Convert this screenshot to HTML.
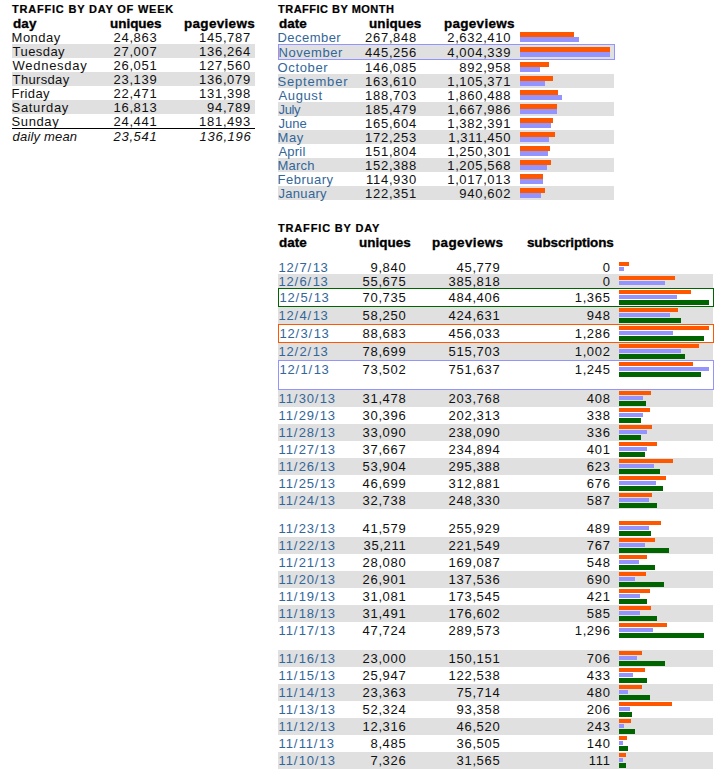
<!DOCTYPE html><html><head><meta charset="utf-8"><style>
html,body{margin:0;padding:0;background:#fff;width:725px;height:776px;overflow:hidden}
body{position:relative;font-family:"Liberation Sans",sans-serif;color:#111}
.t{position:absolute;white-space:nowrap}
.r{position:absolute}
</style></head><body>
<div class="r" style="left:12px;top:44px;width:243px;height:14px;background:#e0e0e0"></div>
<div class="r" style="left:12px;top:72px;width:243px;height:14px;background:#e0e0e0"></div>
<div class="r" style="left:12px;top:100px;width:243px;height:14px;background:#e0e0e0"></div>
<div class="r" style="left:12px;top:128px;width:243px;height:1px;background:#000"></div>
<div class="r" style="left:278px;top:74px;width:336px;height:14px;background:#e0e0e0"></div>
<div class="r" style="left:278px;top:102px;width:336px;height:14px;background:#e0e0e0"></div>
<div class="r" style="left:278px;top:130px;width:336px;height:14px;background:#e0e0e0"></div>
<div class="r" style="left:278px;top:158px;width:336px;height:14px;background:#e0e0e0"></div>
<div class="r" style="left:278px;top:186px;width:336px;height:14px;background:#e0e0e0"></div>
<div class="r" style="left:278px;top:274px;width:435px;height:14px;background:#e0e0e0"></div>
<div class="r" style="left:278px;top:307px;width:435px;height:17px;background:#e0e0e0"></div>
<div class="r" style="left:278px;top:343px;width:435px;height:17px;background:#e0e0e0"></div>
<div class="r" style="left:278px;top:390px;width:435px;height:17px;background:#e0e0e0"></div>
<div class="r" style="left:278px;top:424px;width:435px;height:17px;background:#e0e0e0"></div>
<div class="r" style="left:278px;top:458px;width:435px;height:17px;background:#e0e0e0"></div>
<div class="r" style="left:278px;top:492px;width:435px;height:17px;background:#e0e0e0"></div>
<div class="r" style="left:278px;top:537px;width:435px;height:17px;background:#e0e0e0"></div>
<div class="r" style="left:278px;top:571px;width:435px;height:17px;background:#e0e0e0"></div>
<div class="r" style="left:278px;top:605px;width:435px;height:17px;background:#e0e0e0"></div>
<div class="r" style="left:278px;top:650px;width:435px;height:17px;background:#e0e0e0"></div>
<div class="r" style="left:278px;top:684px;width:435px;height:17px;background:#e0e0e0"></div>
<div class="r" style="left:278px;top:718px;width:435px;height:17px;background:#e0e0e0"></div>
<div class="r" style="left:278px;top:752px;width:435px;height:17px;background:#e0e0e0"></div>
<div class="r" style="left:278px;top:44px;width:335px;height:14px;border:1px solid #9494ff;background:#e0e0e0"></div>
<div class="r" style="left:278px;top:288px;width:434px;height:17px;border:1px solid #006400;background:#fff"></div>
<div class="r" style="left:278px;top:324px;width:434px;height:17px;border:1px solid #ff5700;background:#fff"></div>
<div class="r" style="left:278px;top:360px;width:434px;height:28px;border:1px solid #9494ff;background:#fff"></div>
<div class="r" style="left:520px;top:32px;width:54.00px;height:5px;background:#ff5700"></div>
<div class="r" style="left:520px;top:37px;width:59.00px;height:5px;background:#9494ff"></div>
<div class="r" style="left:520px;top:47px;width:90.00px;height:5px;background:#ff5700"></div>
<div class="r" style="left:520px;top:52px;width:90.00px;height:5px;background:#9494ff"></div>
<div class="r" style="left:520px;top:62px;width:29.00px;height:5px;background:#ff5700"></div>
<div class="r" style="left:520px;top:67px;width:20.00px;height:5px;background:#9494ff"></div>
<div class="r" style="left:520px;top:76px;width:33.00px;height:5px;background:#ff5700"></div>
<div class="r" style="left:520px;top:81px;width:25.00px;height:5px;background:#9494ff"></div>
<div class="r" style="left:520px;top:90px;width:38.00px;height:5px;background:#ff5700"></div>
<div class="r" style="left:520px;top:95px;width:42.00px;height:5px;background:#9494ff"></div>
<div class="r" style="left:520px;top:104px;width:37.00px;height:5px;background:#ff5700"></div>
<div class="r" style="left:520px;top:109px;width:37.00px;height:5px;background:#9494ff"></div>
<div class="r" style="left:520px;top:118px;width:33.00px;height:5px;background:#ff5700"></div>
<div class="r" style="left:520px;top:123px;width:31.00px;height:5px;background:#9494ff"></div>
<div class="r" style="left:520px;top:132px;width:35.00px;height:5px;background:#ff5700"></div>
<div class="r" style="left:520px;top:137px;width:29.00px;height:5px;background:#9494ff"></div>
<div class="r" style="left:520px;top:146px;width:30.00px;height:5px;background:#ff5700"></div>
<div class="r" style="left:520px;top:151px;width:28.00px;height:5px;background:#9494ff"></div>
<div class="r" style="left:520px;top:160px;width:31.00px;height:5px;background:#ff5700"></div>
<div class="r" style="left:520px;top:165px;width:27.00px;height:5px;background:#9494ff"></div>
<div class="r" style="left:520px;top:174px;width:23.00px;height:5px;background:#ff5700"></div>
<div class="r" style="left:520px;top:179px;width:23.00px;height:5px;background:#9494ff"></div>
<div class="r" style="left:520px;top:188px;width:25.00px;height:5px;background:#ff5700"></div>
<div class="r" style="left:520px;top:193px;width:21.00px;height:5px;background:#9494ff"></div>
<div class="r" style="left:619px;top:262px;width:10.00px;height:4px;background:#ff5700"></div>
<div class="r" style="left:619px;top:267px;width:5.00px;height:4px;background:#9494ff"></div>
<div class="r" style="left:619px;top:276px;width:56.00px;height:4px;background:#ff5700"></div>
<div class="r" style="left:619px;top:281px;width:46.00px;height:4px;background:#9494ff"></div>
<div class="r" style="left:619px;top:290px;width:72.00px;height:4px;background:#ff5700"></div>
<div class="r" style="left:619px;top:295px;width:58.00px;height:4px;background:#9494ff"></div>
<div class="r" style="left:619px;top:300px;width:90.00px;height:5px;background:#006400"></div>
<div class="r" style="left:619px;top:308px;width:59.00px;height:4px;background:#ff5700"></div>
<div class="r" style="left:619px;top:313px;width:51.00px;height:4px;background:#9494ff"></div>
<div class="r" style="left:619px;top:318px;width:62.00px;height:5px;background:#006400"></div>
<div class="r" style="left:619px;top:326px;width:90.00px;height:4px;background:#ff5700"></div>
<div class="r" style="left:619px;top:331px;width:54.00px;height:4px;background:#9494ff"></div>
<div class="r" style="left:619px;top:336px;width:85.00px;height:5px;background:#006400"></div>
<div class="r" style="left:619px;top:344px;width:80.00px;height:4px;background:#ff5700"></div>
<div class="r" style="left:619px;top:349px;width:62.00px;height:4px;background:#9494ff"></div>
<div class="r" style="left:619px;top:354px;width:66.00px;height:5px;background:#006400"></div>
<div class="r" style="left:619px;top:362px;width:74.00px;height:4px;background:#ff5700"></div>
<div class="r" style="left:619px;top:367px;width:90.00px;height:4px;background:#9494ff"></div>
<div class="r" style="left:619px;top:372px;width:82.00px;height:5px;background:#006400"></div>
<div class="r" style="left:619px;top:391px;width:32.00px;height:4px;background:#ff5700"></div>
<div class="r" style="left:619px;top:396px;width:24.00px;height:4px;background:#9494ff"></div>
<div class="r" style="left:619px;top:401px;width:27.00px;height:5px;background:#006400"></div>
<div class="r" style="left:619px;top:408px;width:31.00px;height:4px;background:#ff5700"></div>
<div class="r" style="left:619px;top:413px;width:24.00px;height:4px;background:#9494ff"></div>
<div class="r" style="left:619px;top:418px;width:22.00px;height:5px;background:#006400"></div>
<div class="r" style="left:619px;top:425px;width:33.00px;height:4px;background:#ff5700"></div>
<div class="r" style="left:619px;top:430px;width:28.00px;height:4px;background:#9494ff"></div>
<div class="r" style="left:619px;top:435px;width:22.00px;height:5px;background:#006400"></div>
<div class="r" style="left:619px;top:442px;width:38.00px;height:4px;background:#ff5700"></div>
<div class="r" style="left:619px;top:447px;width:28.00px;height:4px;background:#9494ff"></div>
<div class="r" style="left:619px;top:452px;width:26.00px;height:5px;background:#006400"></div>
<div class="r" style="left:619px;top:459px;width:54.00px;height:4px;background:#ff5700"></div>
<div class="r" style="left:619px;top:464px;width:35.00px;height:4px;background:#9494ff"></div>
<div class="r" style="left:619px;top:469px;width:41.00px;height:5px;background:#006400"></div>
<div class="r" style="left:619px;top:476px;width:47.00px;height:4px;background:#ff5700"></div>
<div class="r" style="left:619px;top:481px;width:37.00px;height:4px;background:#9494ff"></div>
<div class="r" style="left:619px;top:486px;width:44.00px;height:5px;background:#006400"></div>
<div class="r" style="left:619px;top:493px;width:33.00px;height:4px;background:#ff5700"></div>
<div class="r" style="left:619px;top:498px;width:30.00px;height:4px;background:#9494ff"></div>
<div class="r" style="left:619px;top:503px;width:38.00px;height:5px;background:#006400"></div>
<div class="r" style="left:619px;top:521px;width:42.00px;height:4px;background:#ff5700"></div>
<div class="r" style="left:619px;top:526px;width:30.00px;height:4px;background:#9494ff"></div>
<div class="r" style="left:619px;top:531px;width:32.00px;height:5px;background:#006400"></div>
<div class="r" style="left:619px;top:538px;width:36.00px;height:4px;background:#ff5700"></div>
<div class="r" style="left:619px;top:543px;width:26.00px;height:4px;background:#9494ff"></div>
<div class="r" style="left:619px;top:548px;width:50.00px;height:5px;background:#006400"></div>
<div class="r" style="left:619px;top:555px;width:28.00px;height:4px;background:#ff5700"></div>
<div class="r" style="left:619px;top:560px;width:20.00px;height:4px;background:#9494ff"></div>
<div class="r" style="left:619px;top:565px;width:36.00px;height:5px;background:#006400"></div>
<div class="r" style="left:619px;top:572px;width:27.00px;height:4px;background:#ff5700"></div>
<div class="r" style="left:619px;top:577px;width:16.00px;height:4px;background:#9494ff"></div>
<div class="r" style="left:619px;top:582px;width:45.00px;height:5px;background:#006400"></div>
<div class="r" style="left:619px;top:589px;width:31.00px;height:4px;background:#ff5700"></div>
<div class="r" style="left:619px;top:594px;width:21.00px;height:4px;background:#9494ff"></div>
<div class="r" style="left:619px;top:599px;width:28.00px;height:5px;background:#006400"></div>
<div class="r" style="left:619px;top:606px;width:32.00px;height:4px;background:#ff5700"></div>
<div class="r" style="left:619px;top:611px;width:21.00px;height:4px;background:#9494ff"></div>
<div class="r" style="left:619px;top:616px;width:38.00px;height:5px;background:#006400"></div>
<div class="r" style="left:619px;top:623px;width:48.00px;height:4px;background:#ff5700"></div>
<div class="r" style="left:619px;top:628px;width:34.00px;height:4px;background:#9494ff"></div>
<div class="r" style="left:619px;top:633px;width:85.00px;height:5px;background:#006400"></div>
<div class="r" style="left:619px;top:651px;width:23.00px;height:4px;background:#ff5700"></div>
<div class="r" style="left:619px;top:656px;width:18.00px;height:4px;background:#9494ff"></div>
<div class="r" style="left:619px;top:661px;width:46.00px;height:5px;background:#006400"></div>
<div class="r" style="left:619px;top:668px;width:26.00px;height:4px;background:#ff5700"></div>
<div class="r" style="left:619px;top:673px;width:14.00px;height:4px;background:#9494ff"></div>
<div class="r" style="left:619px;top:678px;width:28.00px;height:5px;background:#006400"></div>
<div class="r" style="left:619px;top:685px;width:23.00px;height:4px;background:#ff5700"></div>
<div class="r" style="left:619px;top:690px;width:9.00px;height:4px;background:#9494ff"></div>
<div class="r" style="left:619px;top:695px;width:31.00px;height:5px;background:#006400"></div>
<div class="r" style="left:619px;top:702px;width:53.00px;height:4px;background:#ff5700"></div>
<div class="r" style="left:619px;top:707px;width:11.00px;height:4px;background:#9494ff"></div>
<div class="r" style="left:619px;top:712px;width:13.00px;height:5px;background:#006400"></div>
<div class="r" style="left:619px;top:719px;width:12.00px;height:4px;background:#ff5700"></div>
<div class="r" style="left:619px;top:724px;width:5.00px;height:4px;background:#9494ff"></div>
<div class="r" style="left:619px;top:729px;width:16.00px;height:5px;background:#006400"></div>
<div class="r" style="left:619px;top:736px;width:8.00px;height:4px;background:#ff5700"></div>
<div class="r" style="left:619px;top:741px;width:4.00px;height:4px;background:#9494ff"></div>
<div class="r" style="left:619px;top:746px;width:9.00px;height:5px;background:#006400"></div>
<div class="r" style="left:619px;top:753px;width:7.00px;height:4px;background:#ff5700"></div>
<div class="r" style="left:619px;top:758px;width:4.00px;height:4px;background:#9494ff"></div>
<div class="r" style="left:619px;top:763px;width:7.00px;height:5px;background:#006400"></div>
<div class="t" style="left:12.10px;top:4px;font-size:10px;line-height:11px;letter-spacing:0.719px;font-weight:bold;color:#000;transform:scale(1.1,1.0);transform-origin:0 9px;-webkit-text-stroke:0.2px #000">TRAFFIC BY DAY OF WEEK</div>
<div class="t" style="left:12.70px;top:17px;font-size:12px;line-height:14px;letter-spacing:0.089px;font-weight:bold;color:#000;transform:scale(1.12,1.0);transform-origin:0 11px;-webkit-text-stroke:0.3px #000">day</div>
<div class="t" style="left:109.50px;top:17px;font-size:12px;line-height:14px;letter-spacing:0.0px;font-weight:bold;color:#000;transform:scale(1.12,1.0);transform-origin:0 11px;-webkit-text-stroke:0.3px #000">uniques</div>
<div class="t" style="left:183.70px;top:17px;font-size:12px;line-height:14px;letter-spacing:0.301px;font-weight:bold;color:#000;transform:scale(1.12,1.0);transform-origin:0 11px;-webkit-text-stroke:0.3px #000">pageviews</div>
<div class="t" style="left:11.60px;top:30px;font-size:13px;line-height:15px;letter-spacing:0.48px">Monday</div>
<div class="t" style="left:113.40px;top:30px;font-size:13px;line-height:15px;letter-spacing:0.77px">24<span style="letter-spacing:0.39px">,</span>863</div>
<div class="t" style="left:199.00px;top:30px;font-size:13px;line-height:15px;letter-spacing:0.77px">145<span style="letter-spacing:0.39px">,</span>787</div>
<div class="t" style="left:12.60px;top:44px;font-size:13px;line-height:15px;letter-spacing:0.433px">Tuesday</div>
<div class="t" style="left:113.40px;top:44px;font-size:13px;line-height:15px;letter-spacing:0.77px">27<span style="letter-spacing:0.39px">,</span>007</div>
<div class="t" style="left:199.00px;top:44px;font-size:13px;line-height:15px;letter-spacing:0.77px">136<span style="letter-spacing:0.39px">,</span>264</div>
<div class="t" style="left:12.60px;top:58px;font-size:13px;line-height:15px;letter-spacing:0.713px">Wednesday</div>
<div class="t" style="left:113.40px;top:58px;font-size:13px;line-height:15px;letter-spacing:0.77px">26<span style="letter-spacing:0.39px">,</span>051</div>
<div class="t" style="left:199.00px;top:58px;font-size:13px;line-height:15px;letter-spacing:0.77px">127<span style="letter-spacing:0.39px">,</span>560</div>
<div class="t" style="left:12.60px;top:72px;font-size:13px;line-height:15px;letter-spacing:0.343px">Thursday</div>
<div class="t" style="left:113.40px;top:72px;font-size:13px;line-height:15px;letter-spacing:0.77px">23<span style="letter-spacing:0.39px">,</span>139</div>
<div class="t" style="left:199.00px;top:72px;font-size:13px;line-height:15px;letter-spacing:0.77px">136<span style="letter-spacing:0.39px">,</span>079</div>
<div class="t" style="left:11.60px;top:86px;font-size:13px;line-height:15px;letter-spacing:0.36px">Friday</div>
<div class="t" style="left:113.40px;top:86px;font-size:13px;line-height:15px;letter-spacing:0.77px">22<span style="letter-spacing:0.39px">,</span>471</div>
<div class="t" style="left:199.00px;top:86px;font-size:13px;line-height:15px;letter-spacing:0.77px">131<span style="letter-spacing:0.39px">,</span>398</div>
<div class="t" style="left:11.60px;top:100px;font-size:13px;line-height:15px;letter-spacing:0.671px">Saturday</div>
<div class="t" style="left:113.40px;top:100px;font-size:13px;line-height:15px;letter-spacing:0.77px">16<span style="letter-spacing:0.39px">,</span>813</div>
<div class="t" style="left:207.00px;top:100px;font-size:13px;line-height:15px;letter-spacing:0.77px">94<span style="letter-spacing:0.39px">,</span>789</div>
<div class="t" style="left:11.60px;top:114px;font-size:13px;line-height:15px;letter-spacing:0.6px">Sunday</div>
<div class="t" style="left:113.40px;top:114px;font-size:13px;line-height:15px;letter-spacing:0.77px">24<span style="letter-spacing:0.39px">,</span>441</div>
<div class="t" style="left:199.00px;top:114px;font-size:13px;line-height:15px;letter-spacing:0.77px">181<span style="letter-spacing:0.39px">,</span>493</div>
<div class="t" style="left:12.60px;top:129px;font-size:13px;line-height:15px;letter-spacing:0.178px;font-style:italic">daily mean</div>
<div class="t" style="left:113.50px;top:129px;font-size:13px;line-height:15px;letter-spacing:0.77px;font-style:italic">23<span style="letter-spacing:0.39px">,</span>541</div>
<div class="t" style="left:199.60px;top:129px;font-size:13px;line-height:15px;letter-spacing:0.77px;font-style:italic">136<span style="letter-spacing:0.39px">,</span>196</div>
<div class="t" style="left:278.10px;top:4px;font-size:10px;line-height:11px;letter-spacing:0.448px;font-weight:bold;color:#000;transform:scale(1.1,1.0);transform-origin:0 9px;-webkit-text-stroke:0.2px #000">TRAFFIC BY MONTH</div>
<div class="t" style="left:278.70px;top:17px;font-size:12px;line-height:14px;letter-spacing:0.03px;font-weight:bold;color:#000;transform:scale(1.12,1.0);transform-origin:0 11px;-webkit-text-stroke:0.3px #000">date</div>
<div class="t" style="left:369.10px;top:17px;font-size:12px;line-height:14px;letter-spacing:0.104px;font-weight:bold;color:#000;transform:scale(1.12,1.0);transform-origin:0 11px;-webkit-text-stroke:0.3px #000">uniques</div>
<div class="t" style="left:444.00px;top:17px;font-size:12px;line-height:14px;letter-spacing:0.279px;font-weight:bold;color:#000;transform:scale(1.12,1.0);transform-origin:0 11px;-webkit-text-stroke:0.3px #000">pageviews</div>
<div class="t" style="left:277.50px;top:30px;font-size:13px;line-height:15px;letter-spacing:0.457px;color:#336699">December</div>
<div class="t" style="left:365.00px;top:30px;font-size:13px;line-height:15px;letter-spacing:0.77px">267<span style="letter-spacing:0.39px">,</span>848</div>
<div class="t" style="left:447.20px;top:30px;font-size:13px;line-height:15px;letter-spacing:0.77px">2<span style="letter-spacing:0.39px">,</span>632<span style="letter-spacing:0.39px">,</span>410</div>
<div class="t" style="left:278.50px;top:45px;font-size:13px;line-height:15px;letter-spacing:0.557px;color:#336699">November</div>
<div class="t" style="left:365.00px;top:45px;font-size:13px;line-height:15px;letter-spacing:0.77px">445<span style="letter-spacing:0.39px">,</span>256</div>
<div class="t" style="left:447.20px;top:45px;font-size:13px;line-height:15px;letter-spacing:0.77px">4<span style="letter-spacing:0.39px">,</span>004<span style="letter-spacing:0.39px">,</span>339</div>
<div class="t" style="left:277.50px;top:60px;font-size:13px;line-height:15px;letter-spacing:0.65px;color:#336699">October</div>
<div class="t" style="left:365.00px;top:60px;font-size:13px;line-height:15px;letter-spacing:0.77px">146<span style="letter-spacing:0.39px">,</span>085</div>
<div class="t" style="left:459.20px;top:60px;font-size:13px;line-height:15px;letter-spacing:0.77px">892<span style="letter-spacing:0.39px">,</span>958</div>
<div class="t" style="left:277.50px;top:74px;font-size:13px;line-height:15px;letter-spacing:0.8px;color:#336699">September</div>
<div class="t" style="left:365.00px;top:74px;font-size:13px;line-height:15px;letter-spacing:0.77px">163<span style="letter-spacing:0.39px">,</span>610</div>
<div class="t" style="left:447.20px;top:74px;font-size:13px;line-height:15px;letter-spacing:0.77px">1<span style="letter-spacing:0.39px">,</span>105<span style="letter-spacing:0.39px">,</span>371</div>
<div class="t" style="left:278.50px;top:88px;font-size:13px;line-height:15px;letter-spacing:0.62px;color:#336699">August</div>
<div class="t" style="left:365.00px;top:88px;font-size:13px;line-height:15px;letter-spacing:0.77px">188<span style="letter-spacing:0.39px">,</span>703</div>
<div class="t" style="left:447.20px;top:88px;font-size:13px;line-height:15px;letter-spacing:0.77px">1<span style="letter-spacing:0.39px">,</span>860<span style="letter-spacing:0.39px">,</span>488</div>
<div class="t" style="left:278.50px;top:102px;font-size:13px;line-height:15px;letter-spacing:-0.333px;color:#336699">July</div>
<div class="t" style="left:365.00px;top:102px;font-size:13px;line-height:15px;letter-spacing:0.77px">185<span style="letter-spacing:0.39px">,</span>479</div>
<div class="t" style="left:447.20px;top:102px;font-size:13px;line-height:15px;letter-spacing:0.77px">1<span style="letter-spacing:0.39px">,</span>667<span style="letter-spacing:0.39px">,</span>986</div>
<div class="t" style="left:278.50px;top:116px;font-size:13px;line-height:15px;letter-spacing:0.0px;color:#336699">June</div>
<div class="t" style="left:365.00px;top:116px;font-size:13px;line-height:15px;letter-spacing:0.77px">165<span style="letter-spacing:0.39px">,</span>604</div>
<div class="t" style="left:447.20px;top:116px;font-size:13px;line-height:15px;letter-spacing:0.77px">1<span style="letter-spacing:0.39px">,</span>382<span style="letter-spacing:0.39px">,</span>391</div>
<div class="t" style="left:277.50px;top:130px;font-size:13px;line-height:15px;letter-spacing:0.6px;color:#336699">May</div>
<div class="t" style="left:365.00px;top:130px;font-size:13px;line-height:15px;letter-spacing:0.77px">172<span style="letter-spacing:0.39px">,</span>253</div>
<div class="t" style="left:448.20px;top:130px;font-size:13px;line-height:15px;letter-spacing:0.77px">1<span style="letter-spacing:0.39px">,</span>311<span style="letter-spacing:0.39px">,</span>450</div>
<div class="t" style="left:278.50px;top:144px;font-size:13px;line-height:15px;letter-spacing:0.2px;color:#336699">April</div>
<div class="t" style="left:365.00px;top:144px;font-size:13px;line-height:15px;letter-spacing:0.77px">151<span style="letter-spacing:0.39px">,</span>804</div>
<div class="t" style="left:447.20px;top:144px;font-size:13px;line-height:15px;letter-spacing:0.77px">1<span style="letter-spacing:0.39px">,</span>250<span style="letter-spacing:0.39px">,</span>301</div>
<div class="t" style="left:277.50px;top:158px;font-size:13px;line-height:15px;letter-spacing:0.225px;color:#336699">March</div>
<div class="t" style="left:365.00px;top:158px;font-size:13px;line-height:15px;letter-spacing:0.77px">152<span style="letter-spacing:0.39px">,</span>388</div>
<div class="t" style="left:447.20px;top:158px;font-size:13px;line-height:15px;letter-spacing:0.77px">1<span style="letter-spacing:0.39px">,</span>205<span style="letter-spacing:0.39px">,</span>568</div>
<div class="t" style="left:277.50px;top:172px;font-size:13px;line-height:15px;letter-spacing:0.5px;color:#336699">February</div>
<div class="t" style="left:366.00px;top:172px;font-size:13px;line-height:15px;letter-spacing:0.77px">114<span style="letter-spacing:0.39px">,</span>930</div>
<div class="t" style="left:447.20px;top:172px;font-size:13px;line-height:15px;letter-spacing:0.77px">1<span style="letter-spacing:0.39px">,</span>017<span style="letter-spacing:0.39px">,</span>013</div>
<div class="t" style="left:278.50px;top:186px;font-size:13px;line-height:15px;letter-spacing:0.3px;color:#336699">January</div>
<div class="t" style="left:365.00px;top:186px;font-size:13px;line-height:15px;letter-spacing:0.77px">122<span style="letter-spacing:0.39px">,</span>351</div>
<div class="t" style="left:459.20px;top:186px;font-size:13px;line-height:15px;letter-spacing:0.77px">940<span style="letter-spacing:0.39px">,</span>602</div>
<div class="t" style="left:278.10px;top:223px;font-size:10px;line-height:11px;letter-spacing:0.762px;font-weight:bold;color:#000;transform:scale(1.1,1.0);transform-origin:0 9px;-webkit-text-stroke:0.2px #000">TRAFFIC BY DAY</div>
<div class="t" style="left:278.70px;top:236px;font-size:12px;line-height:14px;letter-spacing:0.03px;font-weight:bold;color:#000;transform:scale(1.12,1.0);transform-origin:0 11px;-webkit-text-stroke:0.3px #000">date</div>
<div class="t" style="left:358.70px;top:236px;font-size:12px;line-height:14px;letter-spacing:0.045px;font-weight:bold;color:#000;transform:scale(1.12,1.0);transform-origin:0 11px;-webkit-text-stroke:0.3px #000">uniques</div>
<div class="t" style="left:432.30px;top:236px;font-size:12px;line-height:14px;letter-spacing:0.346px;font-weight:bold;color:#000;transform:scale(1.12,1.0);transform-origin:0 11px;-webkit-text-stroke:0.3px #000">pageviews</div>
<div class="t" style="left:527.20px;top:236px;font-size:12px;line-height:14px;letter-spacing:-0.104px;font-weight:bold;color:#000;transform:scale(1.12,1.0);transform-origin:0 11px;-webkit-text-stroke:0.3px #000">subscriptions</div>
<div class="t" style="left:278.60px;top:260px;font-size:13px;line-height:15px;letter-spacing:0.77px;color:#336699">12<span style="letter-spacing:1.39px">/</span>7<span style="letter-spacing:1.39px">/</span>13</div>
<div class="t" style="left:370.50px;top:260px;font-size:13px;line-height:15px;letter-spacing:0.77px">9<span style="letter-spacing:0.39px">,</span>840</div>
<div class="t" style="left:456.50px;top:260px;font-size:13px;line-height:15px;letter-spacing:0.77px">45<span style="letter-spacing:0.39px">,</span>779</div>
<div class="t" style="left:602.70px;top:260px;font-size:13px;line-height:15px;letter-spacing:0.77px">0</div>
<div class="t" style="left:278.60px;top:274px;font-size:13px;line-height:15px;letter-spacing:0.77px;color:#336699">12<span style="letter-spacing:1.39px">/</span>6<span style="letter-spacing:1.39px">/</span>13</div>
<div class="t" style="left:362.50px;top:274px;font-size:13px;line-height:15px;letter-spacing:0.77px">55<span style="letter-spacing:0.39px">,</span>675</div>
<div class="t" style="left:448.50px;top:274px;font-size:13px;line-height:15px;letter-spacing:0.77px">385<span style="letter-spacing:0.39px">,</span>818</div>
<div class="t" style="left:602.70px;top:274px;font-size:13px;line-height:15px;letter-spacing:0.77px">0</div>
<div class="t" style="left:279.60px;top:290px;font-size:13px;line-height:15px;letter-spacing:0.77px;color:#336699">12<span style="letter-spacing:1.39px">/</span>5<span style="letter-spacing:1.39px">/</span>13</div>
<div class="t" style="left:362.50px;top:290px;font-size:13px;line-height:15px;letter-spacing:0.77px">70<span style="letter-spacing:0.39px">,</span>735</div>
<div class="t" style="left:448.50px;top:290px;font-size:13px;line-height:15px;letter-spacing:0.77px">484<span style="letter-spacing:0.39px">,</span>406</div>
<div class="t" style="left:574.70px;top:290px;font-size:13px;line-height:15px;letter-spacing:0.77px">1<span style="letter-spacing:0.39px">,</span>365</div>
<div class="t" style="left:278.60px;top:308px;font-size:13px;line-height:15px;letter-spacing:0.77px;color:#336699">12<span style="letter-spacing:1.39px">/</span>4<span style="letter-spacing:1.39px">/</span>13</div>
<div class="t" style="left:362.50px;top:308px;font-size:13px;line-height:15px;letter-spacing:0.77px">58<span style="letter-spacing:0.39px">,</span>250</div>
<div class="t" style="left:448.50px;top:308px;font-size:13px;line-height:15px;letter-spacing:0.77px">424<span style="letter-spacing:0.39px">,</span>631</div>
<div class="t" style="left:586.70px;top:308px;font-size:13px;line-height:15px;letter-spacing:0.77px">948</div>
<div class="t" style="left:279.60px;top:326px;font-size:13px;line-height:15px;letter-spacing:0.77px;color:#336699">12<span style="letter-spacing:1.39px">/</span>3<span style="letter-spacing:1.39px">/</span>13</div>
<div class="t" style="left:362.50px;top:326px;font-size:13px;line-height:15px;letter-spacing:0.77px">88<span style="letter-spacing:0.39px">,</span>683</div>
<div class="t" style="left:448.50px;top:326px;font-size:13px;line-height:15px;letter-spacing:0.77px">456<span style="letter-spacing:0.39px">,</span>033</div>
<div class="t" style="left:574.70px;top:326px;font-size:13px;line-height:15px;letter-spacing:0.77px">1<span style="letter-spacing:0.39px">,</span>286</div>
<div class="t" style="left:278.60px;top:344px;font-size:13px;line-height:15px;letter-spacing:0.77px;color:#336699">12<span style="letter-spacing:1.39px">/</span>2<span style="letter-spacing:1.39px">/</span>13</div>
<div class="t" style="left:362.50px;top:344px;font-size:13px;line-height:15px;letter-spacing:0.77px">78<span style="letter-spacing:0.39px">,</span>699</div>
<div class="t" style="left:448.50px;top:344px;font-size:13px;line-height:15px;letter-spacing:0.77px">515<span style="letter-spacing:0.39px">,</span>703</div>
<div class="t" style="left:574.70px;top:344px;font-size:13px;line-height:15px;letter-spacing:0.77px">1<span style="letter-spacing:0.39px">,</span>002</div>
<div class="t" style="left:279.60px;top:362px;font-size:13px;line-height:15px;letter-spacing:0.77px;color:#336699">12<span style="letter-spacing:1.39px">/</span>1<span style="letter-spacing:1.39px">/</span>13</div>
<div class="t" style="left:362.50px;top:362px;font-size:13px;line-height:15px;letter-spacing:0.77px">73<span style="letter-spacing:0.39px">,</span>502</div>
<div class="t" style="left:448.50px;top:362px;font-size:13px;line-height:15px;letter-spacing:0.77px">751<span style="letter-spacing:0.39px">,</span>637</div>
<div class="t" style="left:574.70px;top:362px;font-size:13px;line-height:15px;letter-spacing:0.77px">1<span style="letter-spacing:0.39px">,</span>245</div>
<div class="t" style="left:278.60px;top:391px;font-size:13px;line-height:15px;letter-spacing:0.77px;color:#336699">11<span style="letter-spacing:1.39px">/</span>30<span style="letter-spacing:1.39px">/</span>13</div>
<div class="t" style="left:362.50px;top:391px;font-size:13px;line-height:15px;letter-spacing:0.77px">31<span style="letter-spacing:0.39px">,</span>478</div>
<div class="t" style="left:448.50px;top:391px;font-size:13px;line-height:15px;letter-spacing:0.77px">203<span style="letter-spacing:0.39px">,</span>768</div>
<div class="t" style="left:586.70px;top:391px;font-size:13px;line-height:15px;letter-spacing:0.77px">408</div>
<div class="t" style="left:278.60px;top:408px;font-size:13px;line-height:15px;letter-spacing:0.77px;color:#336699">11<span style="letter-spacing:1.39px">/</span>29<span style="letter-spacing:1.39px">/</span>13</div>
<div class="t" style="left:362.50px;top:408px;font-size:13px;line-height:15px;letter-spacing:0.77px">30<span style="letter-spacing:0.39px">,</span>396</div>
<div class="t" style="left:448.50px;top:408px;font-size:13px;line-height:15px;letter-spacing:0.77px">202<span style="letter-spacing:0.39px">,</span>313</div>
<div class="t" style="left:586.70px;top:408px;font-size:13px;line-height:15px;letter-spacing:0.77px">338</div>
<div class="t" style="left:278.60px;top:425px;font-size:13px;line-height:15px;letter-spacing:0.77px;color:#336699">11<span style="letter-spacing:1.39px">/</span>28<span style="letter-spacing:1.39px">/</span>13</div>
<div class="t" style="left:362.50px;top:425px;font-size:13px;line-height:15px;letter-spacing:0.77px">33<span style="letter-spacing:0.39px">,</span>090</div>
<div class="t" style="left:448.50px;top:425px;font-size:13px;line-height:15px;letter-spacing:0.77px">238<span style="letter-spacing:0.39px">,</span>090</div>
<div class="t" style="left:586.70px;top:425px;font-size:13px;line-height:15px;letter-spacing:0.77px">336</div>
<div class="t" style="left:278.60px;top:442px;font-size:13px;line-height:15px;letter-spacing:0.77px;color:#336699">11<span style="letter-spacing:1.39px">/</span>27<span style="letter-spacing:1.39px">/</span>13</div>
<div class="t" style="left:362.50px;top:442px;font-size:13px;line-height:15px;letter-spacing:0.77px">37<span style="letter-spacing:0.39px">,</span>667</div>
<div class="t" style="left:448.50px;top:442px;font-size:13px;line-height:15px;letter-spacing:0.77px">234<span style="letter-spacing:0.39px">,</span>894</div>
<div class="t" style="left:586.70px;top:442px;font-size:13px;line-height:15px;letter-spacing:0.77px">401</div>
<div class="t" style="left:278.60px;top:459px;font-size:13px;line-height:15px;letter-spacing:0.77px;color:#336699">11<span style="letter-spacing:1.39px">/</span>26<span style="letter-spacing:1.39px">/</span>13</div>
<div class="t" style="left:362.50px;top:459px;font-size:13px;line-height:15px;letter-spacing:0.77px">53<span style="letter-spacing:0.39px">,</span>904</div>
<div class="t" style="left:448.50px;top:459px;font-size:13px;line-height:15px;letter-spacing:0.77px">295<span style="letter-spacing:0.39px">,</span>388</div>
<div class="t" style="left:586.70px;top:459px;font-size:13px;line-height:15px;letter-spacing:0.77px">623</div>
<div class="t" style="left:278.60px;top:476px;font-size:13px;line-height:15px;letter-spacing:0.77px;color:#336699">11<span style="letter-spacing:1.39px">/</span>25<span style="letter-spacing:1.39px">/</span>13</div>
<div class="t" style="left:362.50px;top:476px;font-size:13px;line-height:15px;letter-spacing:0.77px">46<span style="letter-spacing:0.39px">,</span>699</div>
<div class="t" style="left:448.50px;top:476px;font-size:13px;line-height:15px;letter-spacing:0.77px">312<span style="letter-spacing:0.39px">,</span>881</div>
<div class="t" style="left:586.70px;top:476px;font-size:13px;line-height:15px;letter-spacing:0.77px">676</div>
<div class="t" style="left:278.60px;top:493px;font-size:13px;line-height:15px;letter-spacing:0.77px;color:#336699">11<span style="letter-spacing:1.39px">/</span>24<span style="letter-spacing:1.39px">/</span>13</div>
<div class="t" style="left:362.50px;top:493px;font-size:13px;line-height:15px;letter-spacing:0.77px">32<span style="letter-spacing:0.39px">,</span>738</div>
<div class="t" style="left:448.50px;top:493px;font-size:13px;line-height:15px;letter-spacing:0.77px">248<span style="letter-spacing:0.39px">,</span>330</div>
<div class="t" style="left:586.70px;top:493px;font-size:13px;line-height:15px;letter-spacing:0.77px">587</div>
<div class="t" style="left:278.60px;top:521px;font-size:13px;line-height:15px;letter-spacing:0.77px;color:#336699">11<span style="letter-spacing:1.39px">/</span>23<span style="letter-spacing:1.39px">/</span>13</div>
<div class="t" style="left:362.50px;top:521px;font-size:13px;line-height:15px;letter-spacing:0.77px">41<span style="letter-spacing:0.39px">,</span>579</div>
<div class="t" style="left:448.50px;top:521px;font-size:13px;line-height:15px;letter-spacing:0.77px">255<span style="letter-spacing:0.39px">,</span>929</div>
<div class="t" style="left:586.70px;top:521px;font-size:13px;line-height:15px;letter-spacing:0.77px">489</div>
<div class="t" style="left:278.60px;top:538px;font-size:13px;line-height:15px;letter-spacing:0.77px;color:#336699">11<span style="letter-spacing:1.39px">/</span>22<span style="letter-spacing:1.39px">/</span>13</div>
<div class="t" style="left:363.50px;top:538px;font-size:13px;line-height:15px;letter-spacing:0.77px">35<span style="letter-spacing:0.39px">,</span>211</div>
<div class="t" style="left:448.50px;top:538px;font-size:13px;line-height:15px;letter-spacing:0.77px">221<span style="letter-spacing:0.39px">,</span>549</div>
<div class="t" style="left:586.70px;top:538px;font-size:13px;line-height:15px;letter-spacing:0.77px">767</div>
<div class="t" style="left:278.60px;top:555px;font-size:13px;line-height:15px;letter-spacing:0.77px;color:#336699">11<span style="letter-spacing:1.39px">/</span>21<span style="letter-spacing:1.39px">/</span>13</div>
<div class="t" style="left:362.50px;top:555px;font-size:13px;line-height:15px;letter-spacing:0.77px">28<span style="letter-spacing:0.39px">,</span>080</div>
<div class="t" style="left:448.50px;top:555px;font-size:13px;line-height:15px;letter-spacing:0.77px">169<span style="letter-spacing:0.39px">,</span>087</div>
<div class="t" style="left:586.70px;top:555px;font-size:13px;line-height:15px;letter-spacing:0.77px">548</div>
<div class="t" style="left:278.60px;top:572px;font-size:13px;line-height:15px;letter-spacing:0.77px;color:#336699">11<span style="letter-spacing:1.39px">/</span>20<span style="letter-spacing:1.39px">/</span>13</div>
<div class="t" style="left:362.50px;top:572px;font-size:13px;line-height:15px;letter-spacing:0.77px">26<span style="letter-spacing:0.39px">,</span>901</div>
<div class="t" style="left:448.50px;top:572px;font-size:13px;line-height:15px;letter-spacing:0.77px">137<span style="letter-spacing:0.39px">,</span>536</div>
<div class="t" style="left:586.70px;top:572px;font-size:13px;line-height:15px;letter-spacing:0.77px">690</div>
<div class="t" style="left:278.60px;top:589px;font-size:13px;line-height:15px;letter-spacing:0.77px;color:#336699">11<span style="letter-spacing:1.39px">/</span>19<span style="letter-spacing:1.39px">/</span>13</div>
<div class="t" style="left:362.50px;top:589px;font-size:13px;line-height:15px;letter-spacing:0.77px">31<span style="letter-spacing:0.39px">,</span>081</div>
<div class="t" style="left:448.50px;top:589px;font-size:13px;line-height:15px;letter-spacing:0.77px">173<span style="letter-spacing:0.39px">,</span>545</div>
<div class="t" style="left:586.70px;top:589px;font-size:13px;line-height:15px;letter-spacing:0.77px">421</div>
<div class="t" style="left:278.60px;top:606px;font-size:13px;line-height:15px;letter-spacing:0.77px;color:#336699">11<span style="letter-spacing:1.39px">/</span>18<span style="letter-spacing:1.39px">/</span>13</div>
<div class="t" style="left:362.50px;top:606px;font-size:13px;line-height:15px;letter-spacing:0.77px">31<span style="letter-spacing:0.39px">,</span>491</div>
<div class="t" style="left:448.50px;top:606px;font-size:13px;line-height:15px;letter-spacing:0.77px">176<span style="letter-spacing:0.39px">,</span>602</div>
<div class="t" style="left:586.70px;top:606px;font-size:13px;line-height:15px;letter-spacing:0.77px">585</div>
<div class="t" style="left:278.60px;top:623px;font-size:13px;line-height:15px;letter-spacing:0.77px;color:#336699">11<span style="letter-spacing:1.39px">/</span>17<span style="letter-spacing:1.39px">/</span>13</div>
<div class="t" style="left:362.50px;top:623px;font-size:13px;line-height:15px;letter-spacing:0.77px">47<span style="letter-spacing:0.39px">,</span>724</div>
<div class="t" style="left:448.50px;top:623px;font-size:13px;line-height:15px;letter-spacing:0.77px">289<span style="letter-spacing:0.39px">,</span>573</div>
<div class="t" style="left:574.70px;top:623px;font-size:13px;line-height:15px;letter-spacing:0.77px">1<span style="letter-spacing:0.39px">,</span>296</div>
<div class="t" style="left:278.60px;top:651px;font-size:13px;line-height:15px;letter-spacing:0.77px;color:#336699">11<span style="letter-spacing:1.39px">/</span>16<span style="letter-spacing:1.39px">/</span>13</div>
<div class="t" style="left:362.50px;top:651px;font-size:13px;line-height:15px;letter-spacing:0.77px">23<span style="letter-spacing:0.39px">,</span>000</div>
<div class="t" style="left:448.50px;top:651px;font-size:13px;line-height:15px;letter-spacing:0.77px">150<span style="letter-spacing:0.39px">,</span>151</div>
<div class="t" style="left:586.70px;top:651px;font-size:13px;line-height:15px;letter-spacing:0.77px">706</div>
<div class="t" style="left:278.60px;top:668px;font-size:13px;line-height:15px;letter-spacing:0.77px;color:#336699">11<span style="letter-spacing:1.39px">/</span>15<span style="letter-spacing:1.39px">/</span>13</div>
<div class="t" style="left:362.50px;top:668px;font-size:13px;line-height:15px;letter-spacing:0.77px">25<span style="letter-spacing:0.39px">,</span>947</div>
<div class="t" style="left:448.50px;top:668px;font-size:13px;line-height:15px;letter-spacing:0.77px">122<span style="letter-spacing:0.39px">,</span>538</div>
<div class="t" style="left:586.70px;top:668px;font-size:13px;line-height:15px;letter-spacing:0.77px">433</div>
<div class="t" style="left:278.60px;top:685px;font-size:13px;line-height:15px;letter-spacing:0.77px;color:#336699">11<span style="letter-spacing:1.39px">/</span>14<span style="letter-spacing:1.39px">/</span>13</div>
<div class="t" style="left:362.50px;top:685px;font-size:13px;line-height:15px;letter-spacing:0.77px">23<span style="letter-spacing:0.39px">,</span>363</div>
<div class="t" style="left:456.50px;top:685px;font-size:13px;line-height:15px;letter-spacing:0.77px">75<span style="letter-spacing:0.39px">,</span>714</div>
<div class="t" style="left:586.70px;top:685px;font-size:13px;line-height:15px;letter-spacing:0.77px">480</div>
<div class="t" style="left:278.60px;top:702px;font-size:13px;line-height:15px;letter-spacing:0.77px;color:#336699">11<span style="letter-spacing:1.39px">/</span>13<span style="letter-spacing:1.39px">/</span>13</div>
<div class="t" style="left:362.50px;top:702px;font-size:13px;line-height:15px;letter-spacing:0.77px">52<span style="letter-spacing:0.39px">,</span>324</div>
<div class="t" style="left:456.50px;top:702px;font-size:13px;line-height:15px;letter-spacing:0.77px">93<span style="letter-spacing:0.39px">,</span>358</div>
<div class="t" style="left:586.70px;top:702px;font-size:13px;line-height:15px;letter-spacing:0.77px">206</div>
<div class="t" style="left:278.60px;top:719px;font-size:13px;line-height:15px;letter-spacing:0.77px;color:#336699">11<span style="letter-spacing:1.39px">/</span>12<span style="letter-spacing:1.39px">/</span>13</div>
<div class="t" style="left:362.50px;top:719px;font-size:13px;line-height:15px;letter-spacing:0.77px">12<span style="letter-spacing:0.39px">,</span>316</div>
<div class="t" style="left:456.50px;top:719px;font-size:13px;line-height:15px;letter-spacing:0.77px">46<span style="letter-spacing:0.39px">,</span>520</div>
<div class="t" style="left:586.70px;top:719px;font-size:13px;line-height:15px;letter-spacing:0.77px">243</div>
<div class="t" style="left:278.60px;top:736px;font-size:13px;line-height:15px;letter-spacing:0.77px;color:#336699">11<span style="letter-spacing:1.39px">/</span>11<span style="letter-spacing:1.39px">/</span>13</div>
<div class="t" style="left:370.50px;top:736px;font-size:13px;line-height:15px;letter-spacing:0.77px">8<span style="letter-spacing:0.39px">,</span>485</div>
<div class="t" style="left:456.50px;top:736px;font-size:13px;line-height:15px;letter-spacing:0.77px">36<span style="letter-spacing:0.39px">,</span>505</div>
<div class="t" style="left:586.70px;top:736px;font-size:13px;line-height:15px;letter-spacing:0.77px">140</div>
<div class="t" style="left:278.60px;top:753px;font-size:13px;line-height:15px;letter-spacing:0.77px;color:#336699">11<span style="letter-spacing:1.39px">/</span>10<span style="letter-spacing:1.39px">/</span>13</div>
<div class="t" style="left:370.50px;top:753px;font-size:13px;line-height:15px;letter-spacing:0.77px">7<span style="letter-spacing:0.39px">,</span>326</div>
<div class="t" style="left:456.50px;top:753px;font-size:13px;line-height:15px;letter-spacing:0.77px">31<span style="letter-spacing:0.39px">,</span>565</div>
<div class="t" style="left:588.70px;top:753px;font-size:13px;line-height:15px;letter-spacing:0.77px">111</div>
</body></html>
